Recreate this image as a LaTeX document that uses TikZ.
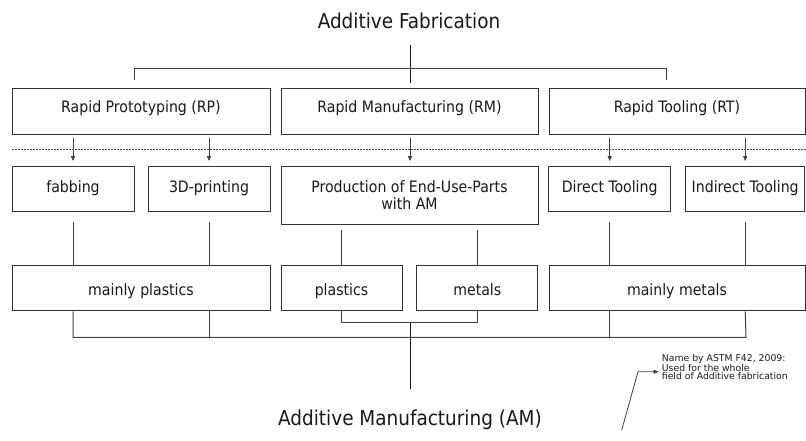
\documentclass[tikz,border=0pt]{standalone}
\usepackage{fontspec}
\setmainfont{DejaVu Sans Condensed}
\newfontfamily\notefont{DejaVu Sans}
\usetikzlibrary{arrows.meta}

\tikzset{
  box/.style={draw=black!80, line width=1pt, inner sep=0pt, rectangle},
  lbl/.style={inner sep=0pt, anchor=base, text=black!90, font=\fontsize{15.7}{17.5}\selectfont, align=center},
  heading/.style={inner sep=0pt, anchor=base, text=black!90, font=\fontsize{20.5}{24}\selectfont},
  wire/.style={draw=black!75, line width=1pt},
  arr/.style={wire, -{Triangle[length=5pt,width=4pt]}},
  sep/.style={draw=black!70, line width=0.8pt, dash pattern=on 2pt off 1pt},
}

\begin{document}
\begin{tikzpicture}[x=1pt, y=-1pt]
\useasboundingbox (0,0) rectangle (806,440);

% headings
\node[heading] (af) at (409,28) {Additive Fabrication};
\node[heading] (am) at (410,425) {Additive Manufacturing (AM)};

% top row
\node[box, minimum width=258pt, minimum height=46pt] (rp) at (141,111) {};
\node[box, minimum width=257pt, minimum height=46pt] (rm) at (409.5,111) {};
\node[box, minimum width=256pt, minimum height=46pt] (rt) at (677,111) {};
\node[lbl] (rpt) at (141,112) {Rapid Prototyping (RP)};
\node[lbl] (rmt) at (409.5,112) {Rapid Manufacturing (RM)};
\node[lbl] (rtt) at (677,112) {Rapid Tooling (RT)};

% second row
\node[box, minimum width=122pt, minimum height=45.3pt] (fab) at (73,189.3) {};
\node[box, minimum width=122pt, minimum height=45.3pt] (tdp) at (209,189.3) {};
\node[box, minimum width=257pt, minimum height=58.3pt] (prod) at (409.5,195.8) {};
\node[box, minimum width=121.5pt, minimum height=45.3pt] (dir) at (609.7,189.3) {};
\node[box, minimum width=119.5pt, minimum height=45.3pt] (ind) at (745.2,189.3) {};
\node[lbl] (fabt) at (73,192) {fabbing};
\node[lbl] (tdpt) at (209,192) {3D-printing};
% the base anchor of a two-line label sits on its last line
\node[lbl] (prodt) at (409.5,209.5) {Production of End-Use-Parts\\with AM};
\node[lbl] (dirt) at (609.7,192) {Direct Tooling};
\node[lbl] (indt) at (745.2,192) {Indirect Tooling};

% third row
\node[box, minimum width=258pt, minimum height=45.3pt] (mp) at (141,288.3) {};
\node[box, minimum width=121pt, minimum height=45.3pt] (pl) at (341.5,288.3) {};
\node[box, minimum width=121.3pt, minimum height=45.3pt] (mt) at (477.3,288.3) {};
\node[box, minimum width=256pt, minimum height=45.3pt] (mm) at (677,288.3) {};
\node[lbl] (mpt) at (141,295.5) {mainly plastics};
\node[lbl] (plt) at (341.5,295.5) {plastics};
\node[lbl] (mtt) at (477.3,295.5) {metals};
\node[lbl] (mmt) at (677,295.5) {mainly metals};

% bracket under the heading
\coordinate (hub) at (410,68.3);
\draw[wire, draw=black!90] (410,45) -- ([yshift=5pt]rm.north -| hub);
\draw[wire] ([yshift=8pt]rp.north -| 134,0) -- (134,68.3) -- (666,68.3) -- ([yshift=8pt]rt.north -| 666,0);

% dashed divider
\coordinate (sepL) at (12,149.3);
\coordinate (sepR) at (806,149.3);
\draw[sep] (sepL) -- (sepR);

% arrows from the top row
\draw[arr] ([yshift=-3.3pt]rp.south -| fab) -- ([yshift=5pt]fab.north);
\draw[arr] ([yshift=-3.3pt]rp.south -| tdp) -- ([yshift=5pt]tdp.north);
\draw[arr] ([yshift=-3.3pt]rm.south -| hub) -- ([yshift=5pt]prod.north -| hub);
\draw[arr] ([yshift=-3.3pt]rt.south -| dir) -- ([yshift=5pt]dir.north);
\draw[arr] ([yshift=-3.3pt]rt.south -| ind) -- ([yshift=5pt]ind.north);

% links to the material row
\draw[wire] ([yshift=-9.7pt]fab.south) -- (mp.north -| fab);
\draw[wire] ([yshift=-9.7pt]tdp.south) -- (mp.north -| tdp);
\draw[wire] ([yshift=-4.3pt]prod.south -| pl) -- (pl.north);
\draw[wire] ([yshift=-4.3pt]prod.south -| mt) -- (mt.north);
\draw[wire] ([yshift=-9.7pt]dir.south) -- (mm.north -| dir);
\draw[wire] ([yshift=-9.7pt]ind.south) -- (mm.north -| ind);

% joining lines at the bottom
\draw[wire] (mp.south -| fab) -- (73,337.3) -- (746,337.3) -- (mm.south -| ind);
\draw[wire] (mp.south -| tdp) -- (209,337.3);
\draw[wire] (mm.south -| dir) -- (609.7,337.3);
\draw[wire] (pl.south) -- (341.5,322.3) -- (477.3,322.3) -- (mt.south);
\draw[wire, draw=black!90] (410,322.3) -- (410,389.3);

% note
\node[inner sep=0pt, anchor=base west, align=left, text=black!90,
      font=\notefont\fontsize{9.3}{8.4}\selectfont] (note) at (661.7,379.5)
  {Name by ASTM F42, 2009:\\Used for the whole\\field of Additive fabrication};
\coordinate (noteTail) at (621.7,430);
\coordinate (noteBend) at (638,371.7);
\draw[wire, line width=0.8pt, -{Triangle[length=5pt,width=4pt]}] (noteTail) -- (noteBend) -- ([xshift=-3pt]note.west |- noteBend);
\end{tikzpicture}
\end{document}
